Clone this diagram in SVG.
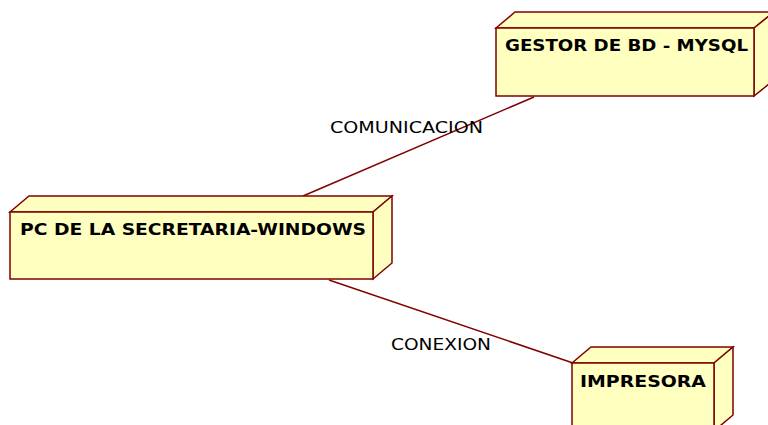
<svg xmlns="http://www.w3.org/2000/svg" width="768" height="425" viewBox="0 0 768 425">
<style>
.f{fill:#ffffc0;stroke:#800000;stroke-width:1.5;stroke-linejoin:miter}
.c{stroke:#800000;stroke-width:1.5;fill:none}
.n{font-family:"DejaVu Sans",Verdana,sans-serif;font-weight:bold;font-size:16px;fill:#000}
.l{font-family:"DejaVu Sans",Verdana,sans-serif;font-size:15px;fill:#000}
</style>
<rect width="768" height="425" fill="#fff"/>
<g id="connectors">
<line class="c" x1="534" y1="97" x2="303" y2="196"/>
<line class="c" x1="329" y1="280" x2="573" y2="363"/>
<text class="l" x="330" y="133" textLength="153" lengthAdjust="spacingAndGlyphs">COMUNICACION</text>
<text class="l" x="391" y="350" textLength="100" lengthAdjust="spacingAndGlyphs">CONEXION</text>
</g>
<g id="gestor">
<polygon class="f" points="496,28 515,12 774,12 754,28"/>
<polygon class="f" points="754,28 774,12 774,80 754,96"/>
<rect class="f" x="496" y="28" width="258" height="68"/>
<text class="n" x="505" y="51" textLength="243" lengthAdjust="spacingAndGlyphs">GESTOR DE BD - MYSQL</text>
</g>
<g id="pc">
<polygon class="f" points="10,212 29,196 392,196 373,212"/>
<polygon class="f" points="373,212 392,196 392,263 373,279"/>
<rect class="f" x="10" y="212" width="363" height="67"/>
<text class="n" x="20" y="235" textLength="346" lengthAdjust="spacingAndGlyphs">PC DE LA SECRETARIA-WINDOWS</text>
</g>
<g id="impresora">
<polygon class="f" points="572,363 591,347 733,347 714,363"/>
<polygon class="f" points="714,363 733,347 733,415 714,431"/>
<rect class="f" x="572" y="363" width="142" height="70"/>
<text class="n" x="580" y="387" textLength="126" lengthAdjust="spacingAndGlyphs">IMPRESORA</text>
</g>
</svg>
